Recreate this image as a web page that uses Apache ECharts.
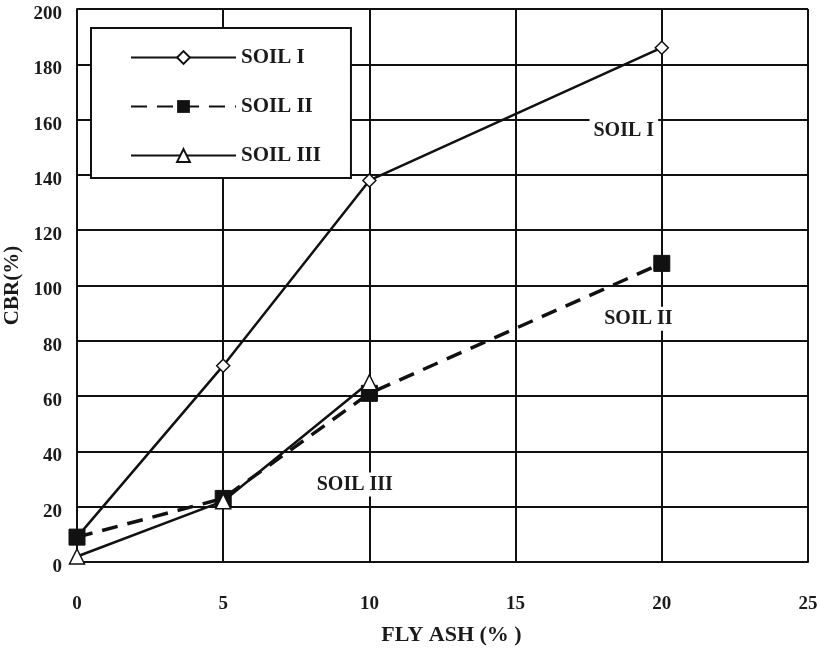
<!DOCTYPE html>
<html>
<head>
<meta charset="utf-8">
<script src="https://cdn.jsdelivr.net/npm/echarts@6/dist/echarts.min.js"></script>
<style>
  html, body { margin: 0; padding: 0; background: #fff; }
  #chart { width: 820px; height: 653px; }
</style>
</head>
<body>
<div id="chart"></div>
<script>
// fly ash content (%)
const flyAsh = [0, 5, 10, 20];
const soil1 = [9, 71, 138, 186];
const soil2 = [9, 23, 61, 108];
const flyAshSoil3 = [0, 5, 10];
const soil3 = [2, 22, 65];

// in-plot annotations
const noteText = ['SOIL I', 'SOIL II', 'SOIL III'];
const noteX = [18.7, 19.2, 9.5];
const noteY = [156, 88, 28];

const serif = 'Liberation Serif';

const chart = echarts.init(document.getElementById('chart'));

const pair = (xs, ys) => xs.map((x, i) => [x, ys[i]]);

chart.setOption({
  animation: false,
  grid: { left: 77, right: 12, top: 9, bottom: 91, outerBoundsMode: 'none' },
  xAxis: {
    type: 'value',
    min: 0, max: 25, interval: 5,
    name: 'FLY ASH (% )',
    nameLocation: 'middle',
    nameGap: 62,
    nameTextStyle: { fontFamily: serif, fontWeight: 'bold', fontSize: 22, color: '#1a1a1a', padding: [0, 0, 0, 18] },
    axisLine: { lineStyle: { color: '#111', width: 2 } },
    axisTick: { show: false },
    axisLabel: { margin: 33, fontFamily: serif, fontWeight: 'bold', fontSize: 19, color: '#1a1a1a' },
    splitLine: { lineStyle: { color: '#111', width: 2 } }
  },
  yAxis: {
    type: 'value',
    min: 0, max: 200, interval: 20,
    name: 'CBR(%)',
    nameLocation: 'middle',
    nameGap: 52,
    nameTextStyle: { fontFamily: serif, fontWeight: 'bold', fontSize: 21, color: '#1a1a1a' },
    axisLine: { show: true, lineStyle: { color: '#111', width: 2 } },
    axisTick: { show: false },
    axisLabel: {
      margin: 15, verticalAlign: 'top', lineHeight: 10,
      fontFamily: serif, fontWeight: 'bold', fontSize: 19, color: '#1a1a1a'
    },
    splitLine: { lineStyle: { color: '#111', width: 2 } }
  },
  legend: {
    orient: 'vertical',
    left: 91, top: 28,
    padding: [19, 30, 12, 39],
    itemWidth: 105,
    itemHeight: 16,
    itemGap: 28,
    backgroundColor: '#fff',
    borderColor: '#111',
    borderWidth: 2,
    textStyle: { fontFamily: serif, fontWeight: 'bold', fontSize: 21, color: '#1a1a1a' },
    data: ['SOIL I', 'SOIL II', 'SOIL III']
  },
  series: [
    {
      name: 'SOIL I', type: 'line', data: pair(flyAsh, soil1),
      symbol: 'diamond', symbolSize: 13,
      itemStyle: { color: '#fff', borderColor: '#111', borderWidth: 1.5 },
      lineStyle: { color: '#111', width: 2.5 }
    },
    {
      name: 'SOIL II', type: 'line', data: pair(flyAsh, soil2),
      symbol: 'rect', symbolSize: 16,
      itemStyle: { color: '#111', borderColor: '#111' },
      lineStyle: { color: '#111', width: 3.5, type: [16, 10] }
    },
    {
      name: 'SOIL III', type: 'line', data: pair(flyAshSoil3, soil3),
      symbol: 'triangle', symbolSize: 15,
      itemStyle: { color: '#fff', borderColor: '#111', borderWidth: 1.5 },
      lineStyle: { color: '#111', width: 2.5 }
    },
    {
      name: 'notes', type: 'scatter', symbolSize: 0, silent: true,
      itemStyle: { opacity: 1 },
      data: noteText.map((t, i) => ({ value: [noteX[i], noteY[i]], name: t })),
      label: {
        show: true, position: 'inside', formatter: '{b}',
        fontFamily: serif, fontWeight: 'bold', fontSize: 20, color: '#1a1a1a',
        backgroundColor: '#fff', padding: [2, 4]
      }
    }
  ]
});
</script>
</body>
</html>
